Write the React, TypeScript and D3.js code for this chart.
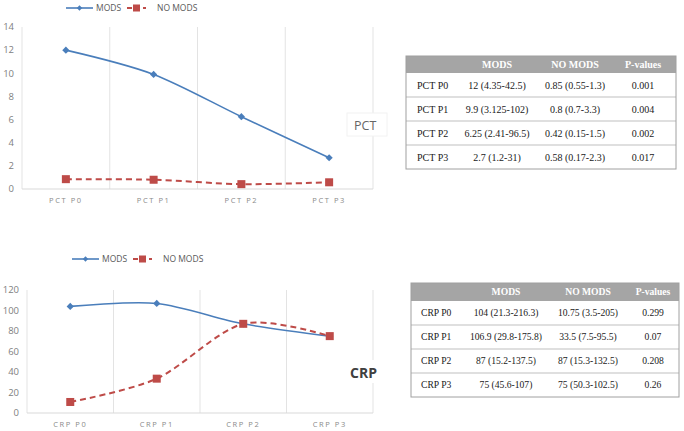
import React from "react";
import * as d3 from "d3";

const pctCats = ["PCT P0", "PCT P1", "PCT P2", "PCT P3"];
const pctMods = [12, 9.9, 6.25, 2.7];
const pctNoMods = [0.85, 0.8, 0.42, 0.58];
const pctTicks = [0, 2, 4, 6, 8, 10, 12, 14];

const crpCats = ["CRP P0", "CRP P1", "CRP P2", "CRP P3"];
const crpMods = [104, 106.9, 87, 75];
const crpNoMods = [10.75, 33.5, 87, 75];
const crpTicks = [0, 20, 40, 60, 80, 100, 120];

const tableHeader = ["", "MODS", "NO MODS", "P-values"];
const pctTableRows = [
  ["PCT P0", "12 (4.35-42.5)", "0.85 (0.55-1.3)", "0.001"],
  ["PCT P1", "9.9 (3.125-102)", "0.8 (0.7-3.3)", "0.004"],
  ["PCT P2", "6.25 (2.41-96.5)", "0.42 (0.15-1.5)", "0.002"],
  ["PCT P3", "2.7 (1.2-31)", "0.58 (0.17-2.3)", "0.017"],
];
const crpTableRows = [
  ["CRP P0", "104 (21.3-216.3)", "10.75 (3.5-205)", "0.299"],
  ["CRP P1", "106.9 (29.8-175.8)", "33.5 (7.5-95.5)", "0.07"],
  ["CRP P2", "87 (15.2-137.5)", "87 (15.3-132.5)", "0.208"],
  ["CRP P3", "75 (45.6-107)", "75 (50.3-102.5)", "0.26"],
];

const BLUE = "#4a7ebb";
const RED = "#be4b48";
const GRID = "#e3e3e3";
const TICK = "#808080";

type ChartProps = {
  cats: string[];
  mods: number[];
  noMods: number[];
  ticks: number[];
  x0: number;
  x1: number;
  yTop: number;
  yBottom: number;
  legendY: number;
  legendX: number;
  label: string;
  labelX: number;
  labelY: number;
  labelBold: boolean;
  labelSize: number;
};

function Chart(p: ChartProps) {
  const x = d3.scaleBand<string>().domain(p.cats).range([p.x0, p.x1]);
  const y = d3
    .scaleLinear()
    .domain([0, p.ticks[p.ticks.length - 1]])
    .range([p.yBottom, p.yTop]);
  const cx = (c: string) => (x(c) as number) + x.bandwidth() / 2;
  const line = d3
    .line<number>()
    .x((_, i) => cx(p.cats[i]))
    .y((d) => y(d))
    .curve(d3.curveCardinal.tension(0.1));
  const bounds = p.cats.map((c) => x(c) as number).concat([p.x1]);
  const lx = p.legendX;
  const diamond = d3.symbol(d3.symbolSquare, 26)() || "";
  const diamondSmall = d3.symbol(d3.symbolSquare, 14)() || "";
  return (
    <g>
      {bounds.map((b, i) => (
        <line key={"g" + i} x1={b} x2={b} y1={p.yTop} y2={p.yBottom} stroke={GRID} strokeWidth={1} />
      ))}
      <line x1={p.x0} x2={p.x1} y1={p.yBottom} y2={p.yBottom} stroke="#d9d9d9" strokeWidth={1} />
      {p.ticks.map((t) => (
        <text key={"t" + t} x={p.x0 - 8} y={y(t)} dy="0.35em" textAnchor="end" fontSize={9.5} fill={TICK} fontFamily="Open Sans, sans-serif">
          {t}
        </text>
      ))}
      {p.cats.map((c) => (
        <text key={"c" + c} x={cx(c)} y={p.yBottom + 14} textAnchor="middle" fontSize={7.5} letterSpacing={1.6} fill="#8a8a8a" fontFamily="Open Sans, sans-serif">
          {c}
        </text>
      ))}
      <path d={line(p.mods) || ""} fill="none" stroke={BLUE} strokeWidth={1.6} />
      <path d={line(p.noMods) || ""} fill="none" stroke={RED} strokeWidth={2} strokeDasharray="6,4" />
      {p.mods.map((v, i) => (
        <path key={"m" + i} d={diamond} transform={`translate(${cx(p.cats[i])},${y(v)}) rotate(45)`} fill={BLUE} />
      ))}
      {p.noMods.map((v, i) => (
        <rect key={"n" + i} x={cx(p.cats[i]) - 4} y={y(v) - 4} width={8} height={8} fill={RED} />
      ))}
      <rect x={p.labelX - 7} y={p.labelY - 13} width={40} height={23} fill="#fff" stroke={p.labelBold ? "none" : "#f2f2f2"} strokeWidth={1} />
      <text x={p.labelX} y={p.labelY} dy="0.35em" fontSize={p.labelSize} fontWeight={p.labelBold ? "bold" : "normal"} fill={p.labelBold ? "#404040" : "#666666"} fontFamily="Open Sans, sans-serif">
        {p.label}
      </text>
      <g>
        <line x1={lx} x2={lx + 27} y1={p.legendY} y2={p.legendY} stroke={BLUE} strokeWidth={1.6} />
        <path d={diamondSmall} transform={`translate(${lx + 13.5},${p.legendY}) rotate(45)`} fill={BLUE} />
        <text x={lx + 30} y={p.legendY} dy="0.35em" fontSize={8.5} fill="#595959" fontFamily="Open Sans, sans-serif">MODS</text>
        <line x1={lx + 61} x2={lx + 80} y1={p.legendY} y2={p.legendY} stroke={RED} strokeWidth={2} strokeDasharray="5,3" />
        <rect x={lx + 67} y={p.legendY - 3.5} width={7} height={7} fill={RED} />
        <text x={lx + 91} y={p.legendY} dy="0.35em" fontSize={8.5} fill="#595959" fontFamily="Open Sans, sans-serif">NO MODS</text>
      </g>
    </g>
  );
}

type TableProps = {
  rows: string[][];
  x0: number;
  x1: number;
  y0: number;
  headerH: number;
  rowH: number;
  colX: number[];
  fontSize: number;
};

function Table(p: TableProps) {
  const h = p.headerH + p.rows.length * p.rowH;
  return (
    <g fontFamily="Liberation Serif, Times New Roman, serif">
      <rect x={p.x0} y={p.y0} width={p.x1 - p.x0} height={p.headerH} fill="#a5a5a5" />
      {tableHeader.map((t, i) => (
        <text key={"h" + i} x={p.colX[i]} y={p.y0 + p.headerH / 2} dy="0.35em" textAnchor={i === 0 ? "start" : "middle"} fontSize={p.fontSize} fontWeight="bold" fill="#fff">
          {t}
        </text>
      ))}
      {p.rows.map((r, ri) => {
        const yy = p.y0 + p.headerH + ri * p.rowH;
        return (
          <g key={"r" + ri}>
            {ri > 0 && <line x1={p.x0} x2={p.x1} y1={yy} y2={yy} stroke="#bfbfbf" strokeWidth={1} />}
            {r.map((c, ci) => (
              <text key={"c" + ci} x={p.colX[ci]} y={yy + p.rowH / 2} dy="0.35em" textAnchor={ci === 0 ? "start" : "middle"} fontSize={p.fontSize} fill="#1a1a1a">
                {c}
              </text>
            ))}
          </g>
        );
      })}
      <rect x={p.x0} y={p.y0} width={p.x1 - p.x0} height={h} fill="none" stroke="#a0a0a0" strokeWidth={1} />
    </g>
  );
}

export default function App() {
  return (
    <svg width={684} height={431} style={{ position: "absolute", left: 0, top: 0, background: "#fff" }}>
      <rect width={684} height={431} fill="#fff" />
      <Chart
        cats={pctCats}
        mods={pctMods}
        noMods={pctNoMods}
        ticks={pctTicks}
        x0={22}
        x1={373}
        yTop={27}
        yBottom={189}
        legendX={66}
        legendY={8}
        label="PCT"
        labelX={354}
        labelY={126}
        labelBold={false}
        labelSize={12.5}
      />
      <Chart
        cats={crpCats}
        mods={crpMods}
        noMods={crpNoMods}
        ticks={crpTicks}
        x0={27}
        x1={373}
        yTop={290}
        yBottom={413}
        legendX={72}
        legendY={259}
        label="CRP"
        labelX={350}
        labelY={373}
        labelBold={true}
        labelSize={14}
      />
      <Table rows={pctTableRows} x0={406} x1={676} y0={56} headerH={17} rowH={24} colX={[417, 497, 575, 643]} fontSize={10} />
      <Table rows={crpTableRows} x0={411} x1={679} y0={283} headerH={18} rowH={24} colX={[421, 506, 588, 653]} fontSize={9.6} />
    </svg>
  );
}
